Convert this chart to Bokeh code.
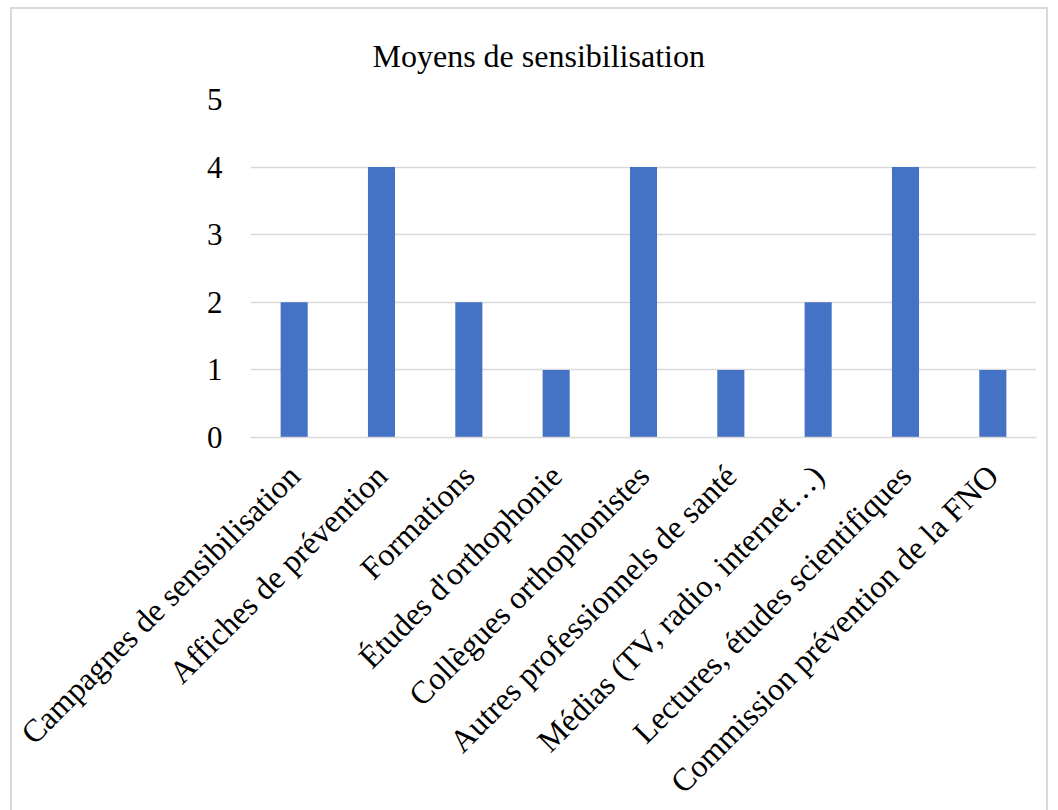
from bokeh.plotting import figure
from bokeh.models import Range1d, FixedTicker, ColumnDataSource
from bokeh.embed import file_html
from bokeh.resources import INLINE
import math

categories = [
    "Campagnes de sensibilisation",
    "Affiches de prévention",
    "Formations",
    "Études d'orthophonie",
    "Collègues orthophonistes",
    "Autres professionnels de santé",
    "Médias (TV, radio, internet…)",
    "Lectures, études scientifiques",
    "Commission prévention de la FNO",
]
counts = [2, 4, 2, 1, 4, 1, 2, 4, 1]
y_ticks = [0, 1, 2, 3, 4, 5]

SERIF = "Liberation Serif"
GRID = "#d9d9d9"

source = ColumnDataSource(data=dict(cat=categories, n=counts))

p = figure(
    x_range=categories,
    y_range=Range1d(0, 5),
    width=1038,
    height=806,
    output_backend="svg",
    toolbar_location=None,
    title="Moyens de sensibilisation",
    min_border_left=238,
    min_border_right=14,
    min_border_top=89,
    min_border_bottom=378,
)
p.styles = {"margin-left": "10px", "margin-top": "7px", "border": "2px solid #d9d9d9"}

p.vbar(x="cat", top="n", width=0.31, source=source, color="#4472C4", line_color=None)

p.title.align = "left"
p.title.offset = 122
p.title.standoff = 52
p.title.text_font = SERIF
p.title.text_font_size = "32px"
p.title.text_font_style = "normal"
p.title.text_color = "#000000"

p.outline_line_color = None
p.xgrid.grid_line_color = None
p.ygrid.grid_line_color = GRID
p.ygrid.grid_line_width = 1.5

p.yaxis.ticker = FixedTicker(ticks=y_ticks)
p.yaxis.axis_line_color = None
p.yaxis.major_tick_line_color = None
p.yaxis.minor_tick_line_color = None
p.yaxis.major_label_text_font = SERIF
p.yaxis.major_label_text_font_size = "31px"
p.yaxis.major_label_text_color = "#000000"
p.yaxis.major_label_standoff = 22

p.xaxis.axis_line_color = GRID
p.xaxis.axis_line_width = 1.5
p.xaxis.major_tick_line_color = None
p.xaxis.minor_tick_line_color = None
p.xaxis.major_label_orientation = math.pi / 4
p.xaxis.major_label_text_font = SERIF
p.xaxis.major_label_text_font_size = "32px"
p.xaxis.major_label_text_color = "#000000"
p.xaxis.major_label_standoff = 27

open("out.html", "w").write(file_html(p, INLINE))
